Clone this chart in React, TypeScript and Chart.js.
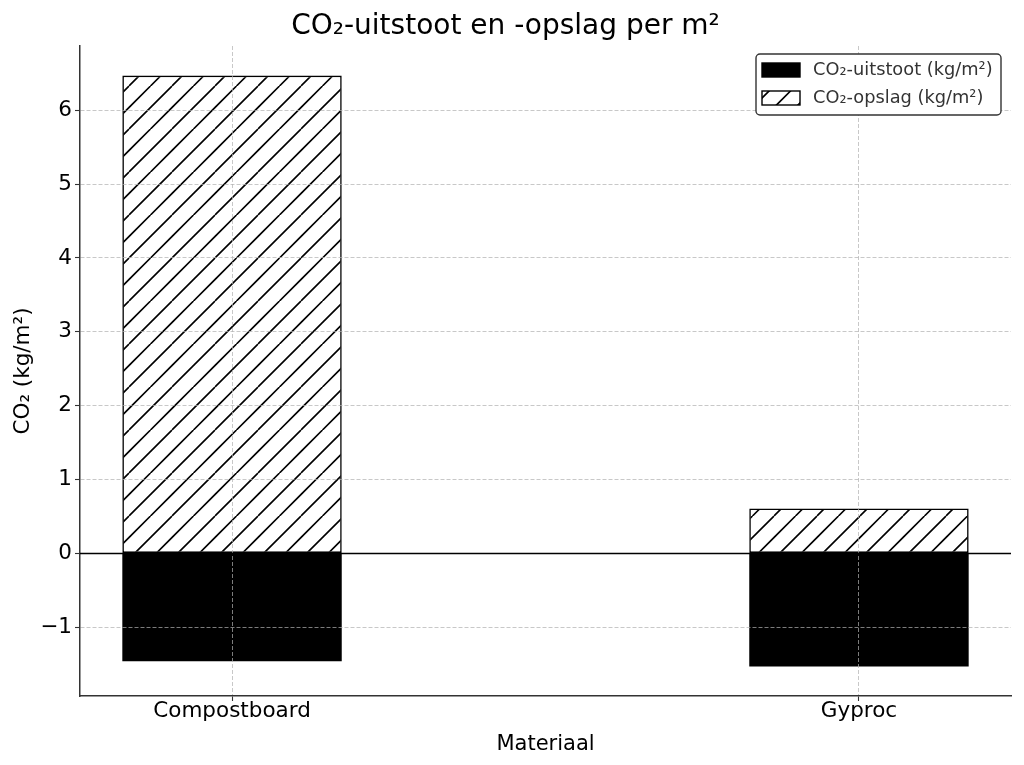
import React, { useEffect, useRef } from "react";
import { Chart, registerables } from "chart.js";

Chart.register(...registerables);

const categories = ["Compostboard", "Gyproc"];
const uitstoot = [-1.46, -1.53];
const opslag = [6.47, 0.61];
const yTickValues = [-1, 0, 1, 2, 3, 4, 5, 6];
const seriesLabels = ["CO₂-uitstoot (kg/m²)", "CO₂-opslag (kg/m²)"];
const chartTitle = "CO₂-uitstoot en -opslag per m²";
const xTitle = "Materiaal";
const yTitle = "CO₂ (kg/m²)";
const yMin = -1.93;
const yMax = 6.87;
const xMin = -0.2425;
const xMax = 1.2425;

const FONT = "DejaVu Sans";
const GRID = "rgba(176,176,176,0.7)";

function makeHatch(ctx: CanvasRenderingContext2D): CanvasPattern | string {
  const step = 21.5;
  const T = step * 2;
  const c = document.createElement("canvas");
  c.width = T;
  c.height = T;
  const g = c.getContext("2d");
  if (!g) return "#fff";
  g.fillStyle = "#fff";
  g.fillRect(0, 0, T, T);
  g.strokeStyle = "#000";
  g.lineWidth = 1.6;
  g.beginPath();
  for (let k = -2; k <= 2; k++) {
    g.moveTo(k * step, T);
    g.lineTo(k * step + T, 0);
  }
  g.stroke();
  return ctx.createPattern(c, "repeat") || "#fff";
}

const overlayPlugin = {
  id: "overlay",
  afterDraw(chart: any) {
    const { ctx, chartArea, scales } = chart;
    const y0 = scales.y.getPixelForValue(0);
    ctx.save();
    ctx.strokeStyle = "#000";
    ctx.lineWidth = 1.4;
    ctx.beginPath();
    ctx.moveTo(chartArea.left, y0);
    ctx.lineTo(chartArea.right, y0);
    ctx.stroke();

    // legend
    const w = 245;
    const h = 61;
    const bx = chartArea.right - 10 - w;
    const by = chartArea.top + 8;
    ctx.beginPath();
    ctx.roundRect(bx, by, w, h, 4);
    ctx.fillStyle = "#fff";
    ctx.fill();
    ctx.strokeStyle = "#333";
    ctx.lineWidth = 1.4;
    ctx.stroke();
    chart.data.datasets.forEach((ds: any, i: number) => {
      const cy = by + 16 + i * 28;
      ctx.fillStyle = ds.backgroundColor;
      ctx.fillRect(bx + 6, cy - 7, 38, 14);
      ctx.strokeStyle = "#000";
      ctx.lineWidth = 1.4;
      ctx.strokeRect(bx + 6, cy - 7, 38, 14);
      ctx.fillStyle = "#333";
      ctx.font = `17.8px "${FONT}"`;
      ctx.textBaseline = "middle";
      ctx.textAlign = "left";
      ctx.fillText(ds.label, bx + 57, cy);
    });
    ctx.restore();
  },
};

export default function App() {
  const ref = useRef<HTMLCanvasElement>(null);
  useEffect(() => {
    const canvas = ref.current;
    if (!canvas) return;
    const ctx = canvas.getContext("2d")!;
    const hatch = makeHatch(ctx);
    Chart.defaults.font.family = FONT;
    Chart.defaults.color = "#000";
    const chart = new Chart(canvas, {
      type: "bar",
      data: {
        datasets: [
          {
            label: seriesLabels[0],
            data: categories.map((_, i) => ({ x: i, y: uitstoot[i] })),
            backgroundColor: "#000",
            borderColor: "#000",
            borderWidth: 0,
            borderSkipped: false,
            inflateAmount: 0,
            barPercentage: 0.35,
            categoryPercentage: 1,
          },
          {
            label: seriesLabels[1],
            data: categories.map((_, i) => ({ x: i, y: opslag[i] })),
            backgroundColor: hatch as any,
            borderColor: "#000",
            borderWidth: 1.6,
            borderSkipped: false,
            inflateAmount: 0,
            barPercentage: 0.35,
            categoryPercentage: 1,
          },
        ],
      },
      options: {
        responsive: false,
        animation: false,
        events: [],
        layout: { padding: { left: 0, right: 13, top: 0, bottom: 0 } },
        plugins: {
          legend: { display: false },
          tooltip: { enabled: false },
          title: {
            display: true,
            text: chartTitle,
            color: "#000",
            font: { size: 28, weight: "normal", family: FONT },
            padding: { top: 9.5, bottom: 2.9 },
          },
        },
        scales: {
          x: {
            type: "linear",
            stacked: true,
            offset: false,
            min: xMin,
            max: xMax,
            afterBuildTicks: (s: any) => {
              s.ticks = categories.map((_, i) => ({ value: i }));
            },
            afterFit: (s: any) => {
              s.height = 69;
            },
            ticks: {
              callback: (v: any) => categories[Math.round(v)] ?? "",
              font: { size: 21.5, family: FONT },
              color: "#000",
              padding: -2,
              maxRotation: 0,
              autoSkip: false,
            },
            grid: {
              z: 1,
              offset: false,
              color: GRID,
              lineWidth: 1,
              tickLength: 5,
              tickColor: "#333",
              tickWidth: 1.1,
              tickBorderDash: [],
            },
            border: { display: true, color: "#333", width: 1.5, dash: [4, 2], z: 2 },
            title: {
              display: true,
              text: xTitle,
              color: "#000",
              font: { size: 21, family: FONT },
              padding: { top: 0, bottom: 8 },
            },
          },
          y: {
            type: "linear",
            stacked: true,
            min: yMin,
            max: yMax,
            afterBuildTicks: (s: any) => {
              s.ticks = yTickValues.map((v) => ({ value: v }));
            },
            afterFit: (s: any) => {
              s.width = 80;
            },
            ticks: {
              callback: (v: any) => (v < 0 ? "\u2212" + Math.abs(v) : String(v)),
              font: { size: 21.5, family: FONT },
              color: "#000",
              padding: 3,
            },
            grid: {
              z: 1,
              color: GRID,
              lineWidth: 1,
              tickLength: 5,
              tickColor: "#333",
              tickWidth: 1.1,
              tickBorderDash: [],
            },
            border: { display: true, color: "#333", width: 1.5, dash: [4, 2], z: 2 },
            title: {
              display: true,
              text: yTitle,
              color: "#000",
              font: { size: 21.5, family: FONT },
              padding: { top: 11, bottom: 0 },
            },
          },
        },
      },
      plugins: [overlayPlugin],
    } as any);
    return () => chart.destroy();
  }, []);
  return (
    <div style={{ position: "fixed", left: 0, top: 0, width: 1024, height: 765, background: "#fff" }}>
      <canvas ref={ref} width={1024} height={765} style={{ display: "block" }} />
    </div>
  );
}
